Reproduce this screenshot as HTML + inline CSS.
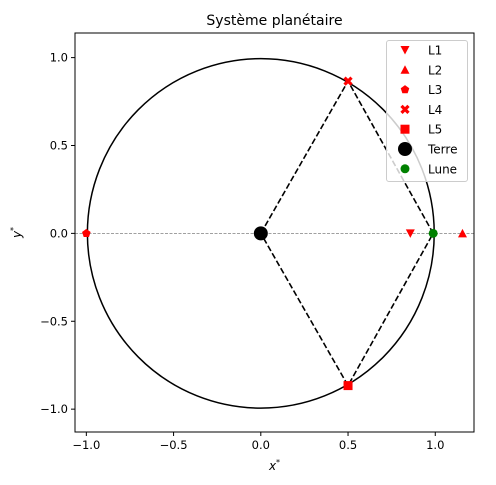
<!DOCTYPE html>
<html><head><meta charset="utf-8"><style>
body{margin:0;background:#fff;font-family:"Liberation Sans","DejaVu Sans",sans-serif}
svg text{font-family:"DejaVu Sans","Liberation Sans",sans-serif}
</style></head><body>
<svg id="c" width="496" height="480" xmlns="http://www.w3.org/2000/svg"></svg>
<script>
const mu = 0.01215;
const pointNames = ["L1","L2","L3","L4","L5","Terre","Lune"];
const pointX = [0.857, 1.156, -1.0, 0.5, 0.5, 0.0, 0.988];
const pointY = [0, 0, 0, 0.866, -0.866, 0, 0];
const xTicks = [-1.0,-0.5,0.0,0.5,1.0];
const yTicks = [1.0,0.5,0.0,-0.5,-1.0];
const xTickLabels = ["−1.0","−0.5","0.0","0.5","1.0"];
const yTickLabels = ["1.0","0.5","0.0","−0.5","−1.0"];
const circleR = 0.994;

const L=75,R=474,T=33,B=432;
const xmin=-1.065,xmax=1.222,ymin=-1.13,ymax=1.14;
const sx=v=>L+(v-xmin)/(xmax-xmin)*(R-L);
const sy=v=>B-(v-ymin)/(ymax-ymin)*(B-T);
const svg=document.getElementById('c');
const NS="http://www.w3.org/2000/svg";
function mk(tag,attrs,parent){const e=document.createElementNS(NS,tag);for(const k in attrs)e.setAttribute(k,attrs[k]);(parent||svg).appendChild(e);return e;}

let t=mk('text',{x:(L+R)/2,y:25,'text-anchor':'middle','font-size':14});t.textContent="Système planétaire";



let zl=mk('line',{x1:L,x2:R,y1:sy(0),y2:sy(0),stroke:'#808080','stroke-width':0.8,'stroke-dasharray':'3,1.5'});


let ci=mk('ellipse',{cx:sx(pointX[5]),cy:sy(0),rx:sx(circleR)-sx(0),ry:sy(0)-sy(circleR),fill:'none',stroke:'#000','stroke-width':1.5});


const ex=sx(pointX[5]),ey=sy(0);
const dpath=`M${ex},${ey}L${sx(pointX[3])},${sy(pointY[3])}L${sx(pointX[6])},${sy(0)}L${sx(pointX[4])},${sy(pointY[4])}Z`;
let dp=mk('path',{d:dpath,fill:'none',stroke:'#000','stroke-width':1.6,'stroke-dasharray':'6,2.6'});



function marker(i,cx,cy,parent){
  const n=pointNames[i];let e;
  if(n==="L1") e=mk('path',{d:`M${cx-4.5},${cy-4}L${cx+4.5},${cy-4}L${cx},${cy+4.5}Z`,fill:'red'},parent);
  else if(n==="L2") e=mk('path',{d:`M${cx-4.5},${cy+4}L${cx+4.5},${cy+4}L${cx},${cy-4.5}Z`,fill:'red'},parent);
  else if(n==="L3"){let p=[];for(let k=0;k<5;k++){const a=-Math.PI/2+k*2*Math.PI/5;p.push((cx+4.5*Math.cos(a))+','+(cy+4.5*Math.sin(a)));}e=mk('polygon',{points:p.join(' '),fill:'red'},parent);}
  else if(n==="L4") e=mk('path',{d:`M${cx-3.5},${cy-3.5}L${cx+3.5},${cy+3.5}M${cx+3.5},${cy-3.5}L${cx-3.5},${cy+3.5}`,stroke:'red','stroke-width':3.2},parent);
  else if(n==="L5") e=mk('rect',{x:cx-4.5,y:cy-4.5,width:9,height:9,fill:'red'},parent);
  else if(n==="Terre") e=mk('circle',{cx,cy,r:7,fill:'#000'},parent);
  else e=mk('circle',{cx,cy,r:4.5,fill:'green'},parent);
  return e;
}
for(let i=0;i<pointNames.length;i++){
  const m=marker(i,sx(pointX[i]),sy(pointY[i]));
  
  
}
let fr=mk('rect',{x:L,y:T,width:R-L,height:B-T,fill:'none',stroke:'#000','stroke-width':1});


xTicks.forEach((v,i)=>{
  mk('line',{x1:sx(v),x2:sx(v),y1:B,y2:B+4,stroke:'#000'});
  const tx=mk('text',{x:sx(v),y:B+17,'text-anchor':'middle','font-size':11.5});tx.textContent=xTickLabels[i];
  
  
});
yTicks.forEach((v,i)=>{
  mk('line',{x1:L-4,x2:L,y1:sy(v),y2:sy(v),stroke:'#000'});
  const tx=mk('text',{x:L-7,y:sy(v)+4,'text-anchor':'end','font-size':11.5});tx.textContent=yTickLabels[i];
  
  
});
let xl=mk('text',{x:(L+R)/2,y:470,'text-anchor':'middle','font-size':12,'font-style':'italic'});xl.innerHTML='x<tspan font-size="8" dy="-5">*</tspan>';


let yl=mk('text',{x:0,y:0,'text-anchor':'middle','font-size':12,'font-style':'italic',transform:`translate(21,${(T+B)/2}) rotate(-90)`});yl.innerHTML='y<tspan font-size="8" dy="-5">*</tspan>';


const lg=mk('g',{});


mk('rect',{x:386.5,y:40.5,width:81,height:141,rx:2.5,fill:'#fff','fill-opacity':0.8,stroke:'#ccc'},lg);
pointNames.forEach((n,i)=>{
  const y=50+i*19.8;
  const g=mk('g',{},lg);
  
  
  marker(i,405,y,g);
  const tx=mk('text',{x:428,y:y+4.5,'font-size':12},g);tx.textContent=n;
});
</script>
</body></html>
